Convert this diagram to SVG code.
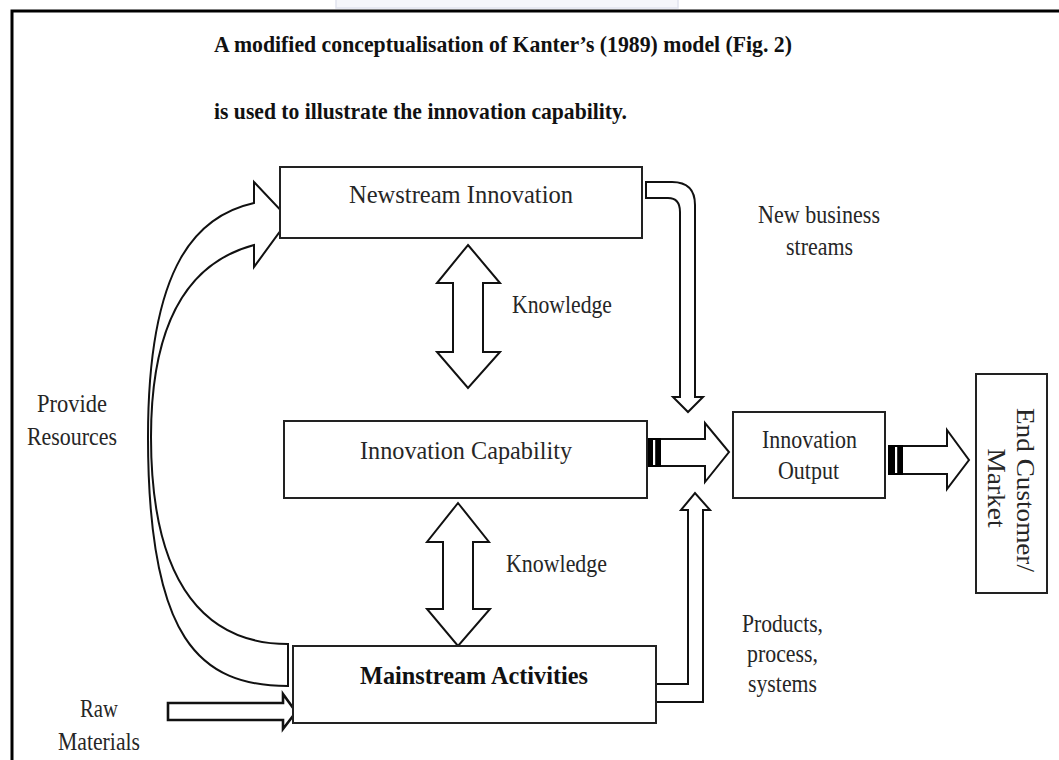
<svg xmlns="http://www.w3.org/2000/svg" width="1059" height="760" viewBox="0 0 1059 760">
  <style>
    .box { fill: #fff; stroke: #222; stroke-width: 2; }
    .arw { fill: #fff; stroke: #111; stroke-width: 2; stroke-linejoin: miter; }
    .t { font-family: "Liberation Serif", "Times New Roman", serif; font-size: 26px; fill: #262626; }
    .b { font-weight: bold; fill: #111; }
    .title { font-family: "Liberation Serif", "Times New Roman", serif; font-size: 24px; font-weight: bold; fill: #111; }
  </style>

  <rect width="1059" height="760" fill="#fff"/>

  <!-- faint tab at the top edge -->
  <rect x="336" y="-3" width="342" height="11" fill="#f5f6fa" stroke="#e1e3ee" stroke-width="1.5"/>

  <!-- page frame -->
  <path d="M12,760 V11 H1059" fill="none" stroke="#000" stroke-width="3"/>

  <!-- heading -->
  <text class="title" x="214" y="52" textLength="578" lengthAdjust="spacingAndGlyphs">A modified conceptualisation of Kanter’s (1989) model (Fig. 2)</text>
  <text class="title" x="214" y="119" textLength="413" lengthAdjust="spacingAndGlyphs">is used to illustrate the innovation capability.</text>

  <!-- connectors -->
  <g id="connectors">
    <!-- Provide Resources: curved block arrow from Mainstream up to Newstream -->
    <path class="arw" style="fill:none"
          d="M254,203 C200,215 148,260 148,437 C148,640 200,686 288,686 L288,644
             C210,644 151,590 151,437 C151,300 205,258 254,245 L254,267 L289,219 L254,182 Z"/>
    <!-- Knowledge: Newstream <-> Capability -->
    <path class="arw" d="M468,245 L500,283 H483 V352 H500 L468,388 L437,352 H453 V283 H437 Z"/>
    <!-- Knowledge: Capability <-> Mainstream -->
    <path class="arw" d="M458,503 L489,542 H473 V609 H490 L458,646 L427,609 H443 V542 H427 Z"/>
    <!-- New business streams -->
    <path class="arw" d="M646,182 H672 Q695,182 695,205 V397 H703 L688,412 L673,397 H680 V212 Q680,198 668,198 H646 Z"/>
    <!-- Products, process, systems -->
    <path class="arw" d="M656,684 H688 V510 H681 L695,493 L710,510 H703 V702 H656 Z"/>
    <!-- Capability to Output -->
    <path class="arw" d="M655,439 H705 V423 L729,452 L705,482 V466 H655 Z"/>
    <rect x="647" y="438" width="14" height="29" fill="#000"/>
    <rect x="653" y="440" width="2.2" height="25" fill="#fff"/>
    <!-- Output to Market -->
    <path class="arw" d="M895,446 H947 V430 L969,460 L947,489 V474 H895 Z"/>
    <rect x="888" y="445" width="15" height="30" fill="#000"/>
    <rect x="895" y="447" width="2.2" height="26" fill="#fff"/>
    <!-- Raw Materials -->
    <path class="arw" style="stroke-width:2.6" d="M168,703 H283 V694 L296,712 L283,729 V720 H168 Z"/>
  </g>

  <!-- nodes -->
  <g id="newstream">
    <rect class="box" x="280" y="167" width="362" height="71"/>
    <text class="t" x="349" y="203" textLength="224" lengthAdjust="spacingAndGlyphs">Newstream Innovation</text>
  </g>
  <g id="capability">
    <rect class="box" x="284" y="421" width="363" height="77"/>
    <text class="t" x="360" y="459" textLength="212" lengthAdjust="spacingAndGlyphs">Innovation Capability</text>
  </g>
  <g id="output">
    <rect class="box" x="733" y="412" width="152" height="86"/>
    <text class="t" x="762" y="448" textLength="95" lengthAdjust="spacingAndGlyphs">Innovation</text>
    <text class="t" x="778" y="479" textLength="61" lengthAdjust="spacingAndGlyphs">Output</text>
  </g>
  <g id="mainstream">
    <rect class="box" x="293" y="646" width="363" height="77"/>
    <text class="t b" x="360" y="684" textLength="228" lengthAdjust="spacingAndGlyphs">Mainstream Activities</text>
  </g>
  <g id="market">
    <rect class="box" x="976" y="374" width="71" height="219"/>
    <text class="t" font-size="27" text-anchor="middle" textLength="164" lengthAdjust="spacingAndGlyphs" transform="translate(1017,490) rotate(90)">End Customer/</text>
    <text class="t" font-size="27" text-anchor="middle" textLength="79" lengthAdjust="spacingAndGlyphs" transform="translate(988,488) rotate(90)">Market</text>
  </g>

  <!-- free labels -->
  <g id="labels">
    <text class="t" x="512" y="313" textLength="100" lengthAdjust="spacingAndGlyphs">Knowledge</text>
    <text class="t" x="506" y="572" textLength="101" lengthAdjust="spacingAndGlyphs">Knowledge</text>
    <text class="t" x="758" y="223" textLength="122" lengthAdjust="spacingAndGlyphs">New business</text>
    <text class="t" x="786" y="255" textLength="67" lengthAdjust="spacingAndGlyphs">streams</text>
    <text class="t" x="37" y="412" textLength="70" lengthAdjust="spacingAndGlyphs">Provide</text>
    <text class="t" x="27" y="445" textLength="90" lengthAdjust="spacingAndGlyphs">Resources</text>
    <text class="t" x="742" y="632" textLength="81" lengthAdjust="spacingAndGlyphs">Products,</text>
    <text class="t" x="747" y="662" textLength="71" lengthAdjust="spacingAndGlyphs">process,</text>
    <text class="t" x="748" y="692" textLength="69" lengthAdjust="spacingAndGlyphs">systems</text>
    <text class="t" x="80" y="717" textLength="38" lengthAdjust="spacingAndGlyphs">Raw</text>
    <text class="t" x="58" y="750" textLength="82" lengthAdjust="spacingAndGlyphs">Materials</text>
  </g>
</svg>
